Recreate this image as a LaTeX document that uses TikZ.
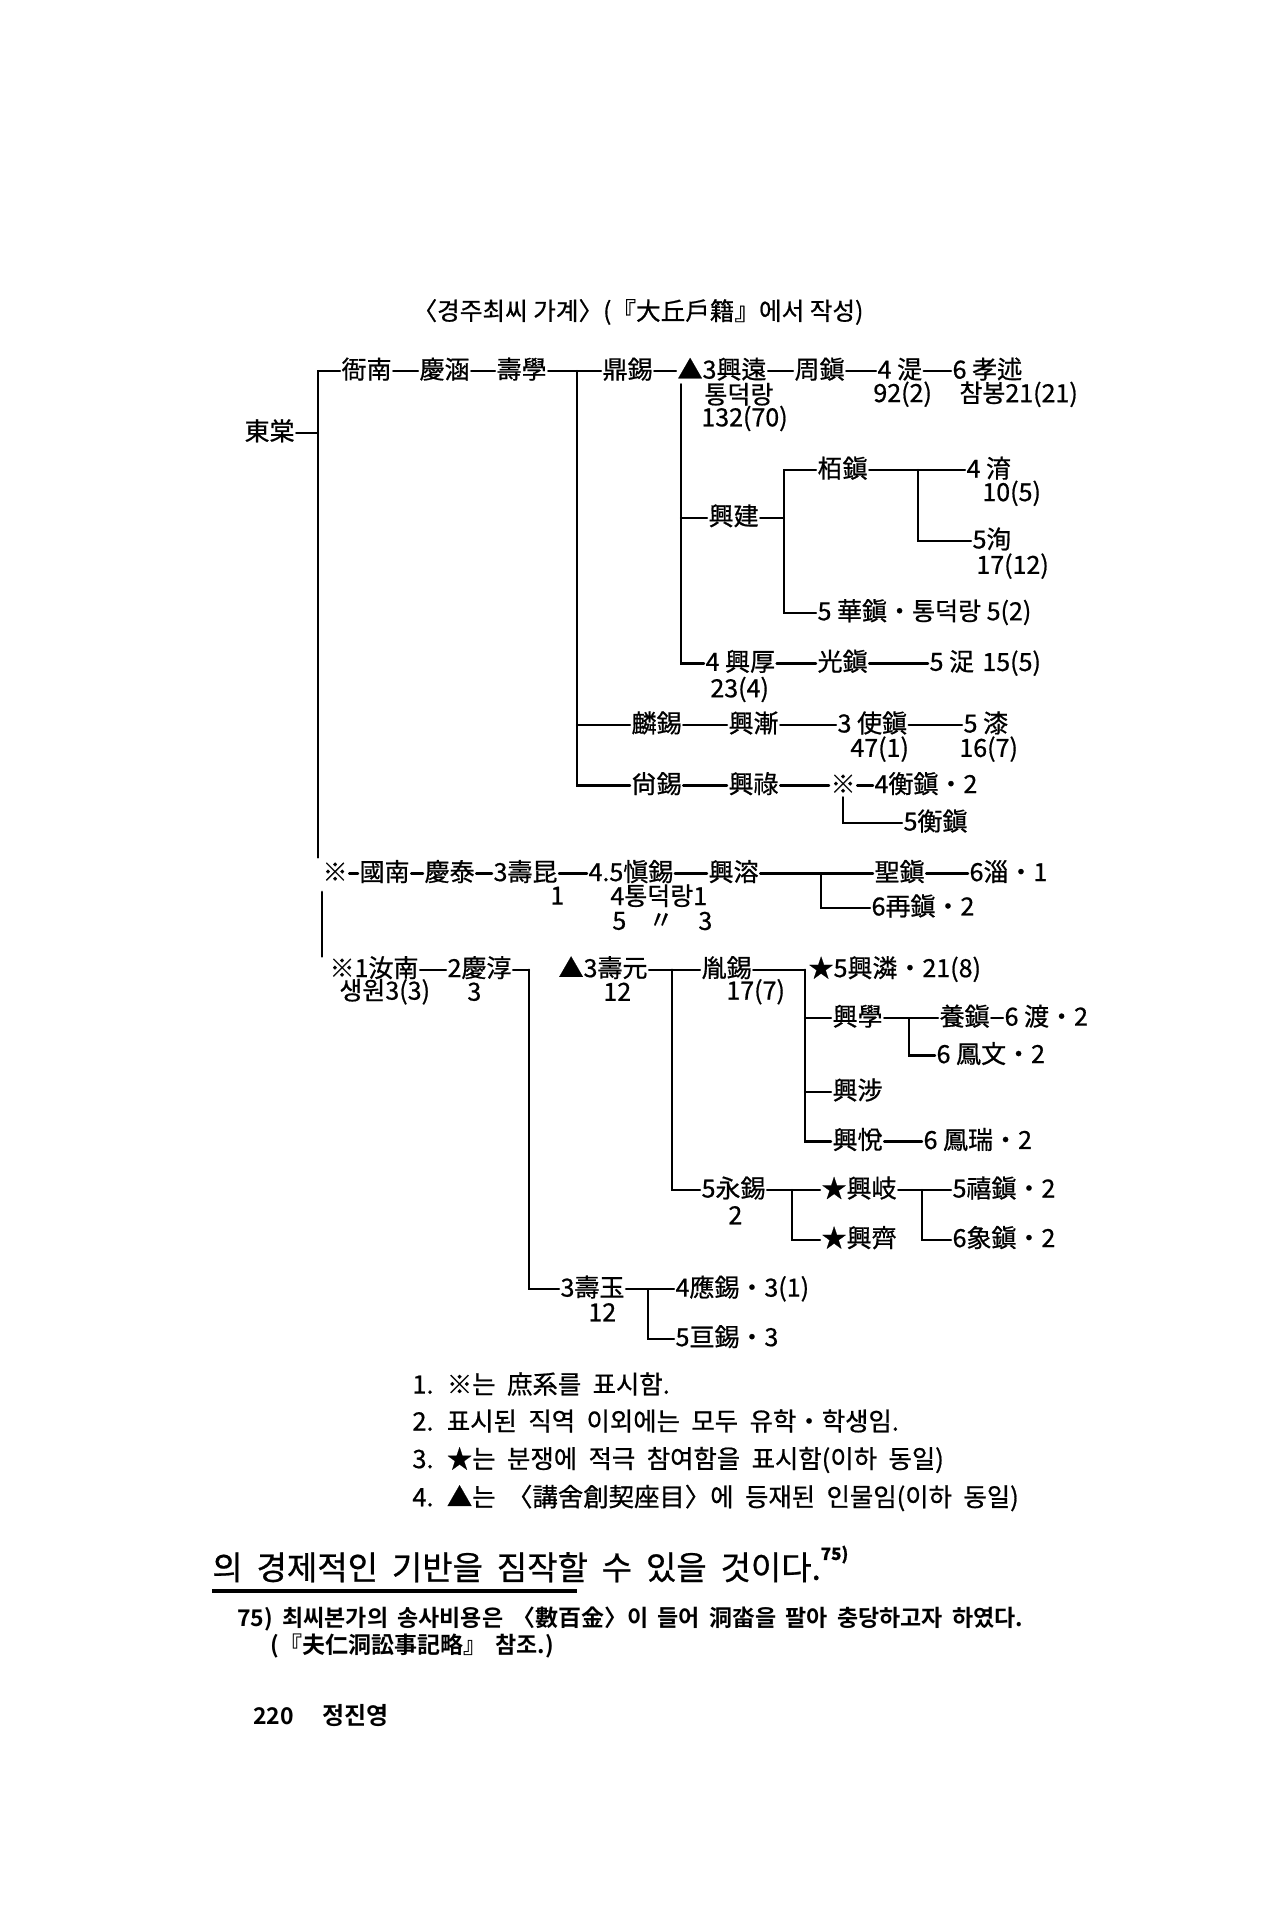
\documentclass[tikz,border=0pt]{standalone}
\usepackage{fontspec}
\setmainfont{Noto Sans CJK KR}[BoldFont={Noto Sans CJK KR Bold}]
\newfontfamily\heavyfam{Noto Sans CJK KR}[FakeBold=0.7]
\newcommand\treefont{\heavyfam\fontsize{12.5}{14}\selectfont}
\newcommand\ttlfont{\heavyfam\fontsize{12.3}{14}\selectfont}
\newcommand\notefont{\heavyfam\fontsize{12.7}{14}\selectfont\spaceskip=0.45em}
\newcommand\bodyfont{\heavyfam\fontsize{16.5}{19}\selectfont\spaceskip=0.42em}
\newcommand\fnfont{\bfseries\fontsize{11.5}{13}\selectfont\spaceskip=0.4em}
\tikzset{
  t/.style={anchor=west, inner sep=0.6pt, text height=0.88em, text depth=0.12em, font=\treefont},
  s/.style={anchor=west, inner sep=0pt, font=\treefont},
  ln/.style={line width=1.2pt, line cap=round},
  note/.style={anchor=west, inner sep=0pt, font=\notefont},
}
\begin{document}
\begin{tikzpicture}[x=0.5pt,y=-0.5pt]
\useasboundingbox (0,0) rectangle (1272,1920);
\fill[white] (0,0) rectangle (1272,1920);

% title
\node[font=\ttlfont, inner sep=0pt] (title) at (638,312) {〈경주최씨 가계〉(『大丘戶籍』에서 작성)};

\begin{scope}[yshift=2.04pt, yscale=1.011]
% ---------- row A ----------
\node[t] (dongdang) at (243,432) {東棠};
\coordinate (L1t) at (318,371);
\coordinate (L1b) at (318,852);
\coordinate (L1m) at (318,432);
\node[t] (yanam) at (340,371) {衙南};
\node[t] (gyeongham) at (418,371) {慶涵};
\node[t] (suhak) at (495,371) {壽學};
\node[t] (jeongseok) at (601,371) {鼎錫};
\node[t] (heungwon) at (676,371) {▲3興遠};
\node[t] (jujin) at (793,371) {周鎭};
\node[t] (si) at (876,371) {4 湜};
\node[t] (hyosul) at (951,371) {6 孝述};
\node[s] (tdr) at (704,394) {통덕랑};
\node[s] (n13270) at (701,418) {132(70)};
\node[s] (n922) at (873,394) {92(2)};
\node[s] (chambong) at (959,394) {참봉21(21)};

\draw[ln] (dongdang.east) -- (L1m);
\draw[ln] (L1b) -- (L1t) -- (yanam.west);
\draw[ln] (yanam.east) -- (gyeongham.west);
\draw[ln] (gyeongham.east) -- (suhak.west);
\draw[ln] (suhak.east) -- (jeongseok.west);
\draw[ln] (jeongseok.east) -- (heungwon.west);
\draw[ln] (heungwon.east) -- (jujin.west);
\draw[ln] (jujin.east) -- (si.west);
\draw[ln] (si.east) -- (hyosul.west);

\coordinate (V2t) at (577,371);
\coordinate (V3t) at (681,384);

% ---------- 興建 group ----------
\node[t] (heunggeon) at (707,516) {興建};
\coordinate (V4t) at (784,469);
\coordinate (V4m) at (784,516);
\node[t] (baekjin) at (816,469) {栢鎭};
\node[t] (yu) at (965,469) {4 淯};
\node[s] (n105) at (982,492) {10(5)};
\coordinate (V5t) at (918,469);
\node[t] (sun) at (971,539) {5洵};
\node[s] (n1712) at (976,564) {17(12)};
\node[t] (hwajin) at (816,610) {5 華鎭・통덕랑 5(2)};

\draw[ln] (heunggeon.east) -- (V4m);
\draw[ln] (baekjin.west) -- (V4t) |- (hwajin.west);
\draw[ln] (baekjin.east) -- (yu.west);
\draw[ln] (V5t) |- (sun.west);

% ---------- 興厚 row ----------
\node[t] (heunghu) at (704,660) {4 興厚};
\node[t] (gwangjin) at (816,660) {光鎭};
\node[t] (chak) at (928,660) {5 浞};
\node[s] (n155) at (982,660) {15(5)};
\node[s] (n234) at (710,686) {23(4)};
\draw[ln] (V3t) |- (heunghu.west);
\draw[ln] (V3t |- heunggeon.west) -- (heunggeon.west);
\draw[ln] (heunghu.east) -- (gwangjin.west);
\draw[ln] (gwangjin.east) -- (chak.west);

% ---------- 麟錫 row ----------
\node[t] (inseok) at (630,721) {麟錫};
\node[t] (heungjeom) at (727,721) {興漸};
\node[t] (sajin) at (836,721) {3 使鎭};
\node[t] (chil) at (962,721) {5 漆};
\node[s] (n471) at (850,745) {47(1)};
\node[s] (n167) at (959,745) {16(7)};
\draw[ln] (V2t |- inseok.west) -- (inseok.west);
\draw[ln] (inseok.east) -- (heungjeom.west);
\draw[ln] (heungjeom.east) -- (sajin.west);
\draw[ln] (sajin.east) -- (chil.west);

% ---------- 尙錫 row ----------
\node[t] (sangseok) at (630,781) {尙錫};
\node[t] (heungrok) at (727,781) {興祿};
\node[t] (ref1) at (829,781) {※};
\node[t] (hyeongjin) at (873,781) {4衡鎭・2};
\node[t] (hyeongjin2) at (902,818) {5衡鎭};
\draw[ln] (V2t) |- (sangseok.west);
\draw[ln] (sangseok.east) -- (heungrok.west);
\draw[ln] (heungrok.east) -- (ref1.west);
\draw[ln] (ref1.east) -- (hyeongjin.west);
\draw[ln] (ref1.south) |- (hyeongjin2.west);

% ---------- 國南 row ----------
\node[t] (ref2) at (321,868) {※};
\node[t] (gungnam) at (358,868) {國南};
\node[t] (gyeongtae) at (423,868) {慶泰};
\node[t] (sugon) at (492,868) {3壽昆};
\node[t] (sinseok) at (587,868) {4.5愼錫};
\node[t] (heungyong) at (707,868) {興溶};
\node[t] (seongjin) at (873,868) {聖鎭};
\node[t] (chi) at (968,868) {6淄・1};
\node[s] (n1a) at (550,890) {1};
\node[s] (tdr2) at (610,890) {4통덕랑1};
\node[s] (n5a) at (612,915) {5};
\node[s, anchor=center] (n5b) at (661,915) {〃};
\node[s] (n5c) at (698,915) {3};
\node[t] (jaejin) at (870,902) {6再鎭・2};
\coordinate (V6t) at (821,868);
\draw[ln] (ref2.east) -- (gungnam.west);
\draw[ln] (gungnam.east) -- (gyeongtae.west);
\draw[ln] (gyeongtae.east) -- (sugon.west);
\draw[ln] (sugon.east) -- (sinseok.west);
\draw[ln] (sinseok.east) -- (heungyong.west);
\draw[ln] (heungyong.east) -- (seongjin.west);
\draw[ln] (seongjin.east) -- (chi.west);
\draw[ln] (V6t) |- (jaejin.west);

\coordinate (L2t) at (322,886);
\coordinate (L2b) at (322,950);
\draw[ln] (L2t) -- (L2b);

% ---------- 汝南 row ----------
\node[t] (yeonam) at (328,963) {※1汝南};
\node[t] (gyeongsun) at (446,963) {2慶淳};
\node[s] (saengwon) at (339,985) {생원3(3)};
\node[s] (n3a) at (467,985) {3};
\coordinate (V7t) at (529,963);
\node[t] (suwon) at (557,963) {▲3壽元};
\node[s] (n12a) at (603,985) {12};
\coordinate (V8t) at (672,963);
\node[t] (yunseok) at (700,963) {胤錫};
\node[s] (n177) at (726,985) {17(7)};
\coordinate (V9t) at (805,963);
\node[t] (heungin) at (807,963) {★5興潾・21(8)};
\draw[ln] (yeonam.east) -- (gyeongsun.west);
\draw[ln] (gyeongsun.east) -- (V7t);
\draw[ln] (suwon.east) -- (yunseok.west);
\draw[ln] (yunseok.east) -- (V9t);

\node[t] (heunghak) at (831,1011) {興學};
\node[t] (yangjin) at (938,1011) {養鎭};
\node[t] (do) at (1003,1011) {6 渡・2};
\node[t] (bongmun) at (935,1048) {6 鳳文・2};
\node[t] (heungseop) at (831,1084) {興涉};
\node[t] (heungyeol) at (831,1133) {興悅};
\node[t] (bongseo) at (922,1133) {6 鳳瑞・2};
\coordinate (V10t) at (909,1011);
\draw[ln] (V9t) |- (heungyeol.west);
\draw[ln] (V9t |- heunghak.west) -- (heunghak.west);
\draw[ln] (V9t |- heungseop.west) -- (heungseop.west);
\draw[ln] (heunghak.east) -- (yangjin.west);
\draw[ln] (yangjin.east) -- (do.west);
\draw[ln] (V10t) |- (bongmun.west);
\draw[ln] (heungyeol.east) -- (bongseo.west);

% 永錫 row
\node[t] (yeongseok) at (700,1181) {5永錫};
\node[s] (n2a) at (728,1206) {2};
\node[t] (heunggi) at (820,1181) {★興岐};
\node[t] (heungje) at (820,1230) {★興齊};
\node[t] (heejin) at (951,1181) {5禧鎭・2};
\node[t] (sangjin) at (951,1230) {6象鎭・2};
\coordinate (V11t) at (792,1181);
\coordinate (V12t) at (922,1181);
\draw[ln] (V8t) |- (yeongseok.west);
\draw[ln] (yeongseok.east) -- (heunggi.west);
\draw[ln] (V11t) |- (heungje.west);
\draw[ln] (heunggi.east) -- (heejin.west);
\draw[ln] (V12t) |- (sangjin.west);

% 壽玉 row
\node[t] (suok) at (559,1279) {3壽玉};
\node[s] (n12b) at (588,1302) {12};
\node[t] (eungseok) at (674,1279) {4應錫・3(1)};
\node[t] (geungseok) at (674,1328) {5亘錫・3};
\coordinate (V13t) at (648,1279);
\draw[ln] (V7t) |- (suok.west);
\draw[ln] (suok.east) -- (eungseok.west);
\draw[ln] (V13t) |- (geungseok.west);
\end{scope}

% ---------- notes ----------
\node[note] (note1) at (412,1384) {1. ※는 庶系를 표시함.};
\node[note] (note2) at (412,1421) {2. 표시된 직역 이외에는 모두 유학・학생임.};
\node[note] (note3) at (412,1460) {3. ★는 분쟁에 적극 참여함을 표시함(이하 동일)};
\node[note] (note4) at (412,1498) {4. ▲는 〈講舍創契座目〉에 등재된 인물임(이하 동일)};

% ---------- body text ----------
\node[anchor=west, inner sep=0pt, font=\bodyfont] (body) at (212,1564) {의 경제적인 기반을 짐작할 수 있을 것이다.\raisebox{0.6em}{\fontsize{8.5}{9}\selectfont\bfseries 75)}};
\coordinate (rulea) at (212,1591);
\coordinate (ruleb) at (577,1591);
\draw[line width=1.6pt] (rulea) -- (ruleb);

\node[anchor=west, inner sep=0pt, font=\fnfont] (fn1) at (237,1619) {75) 최씨본가의 송사비용은 〈數百金〉이 들어 洞畓을 팔아 충당하고자 하였다.};
\node[anchor=west, inner sep=0pt, font=\fnfont] (fn2) at (270,1646) {(『夫仁洞訟事記略』 참조.)};

\node[anchor=west, inner sep=0pt, font=\fnfont] (pnum) at (253,1716) {220};
\node[anchor=west, inner sep=0pt, font=\bfseries\fontsize{12}{14}\selectfont] (author) at (322,1716) {정진영};
\end{tikzpicture}
\end{document}
